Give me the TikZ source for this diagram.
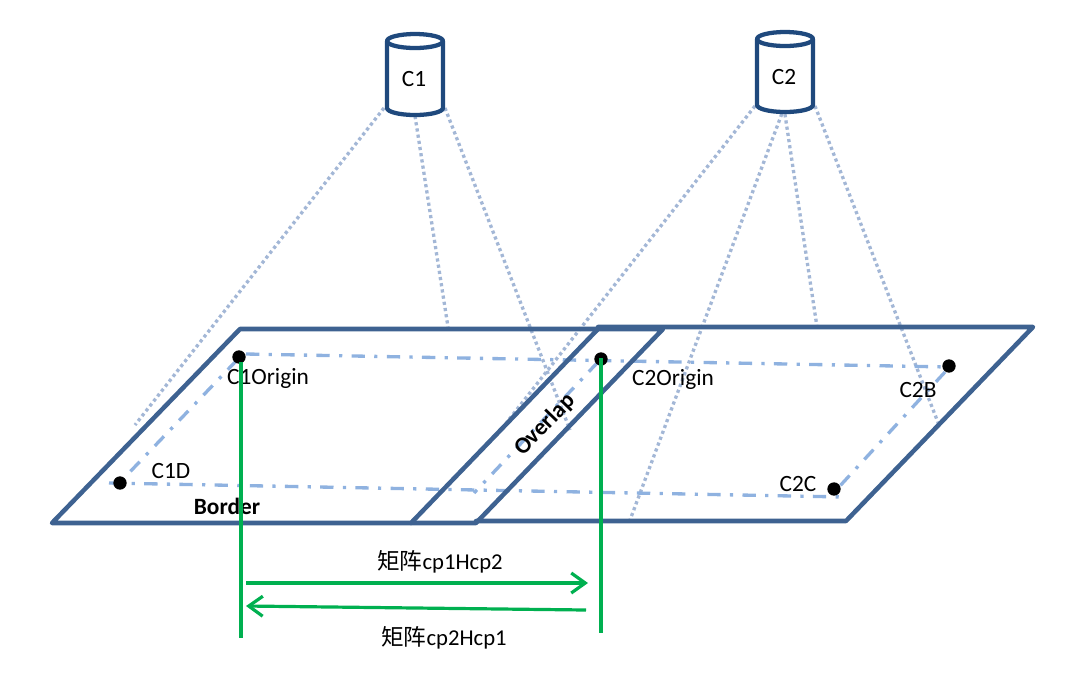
\documentclass[tikz,border=0pt]{standalone}
\usepackage{fontspec}
\setmainfont{Carlito}
\newfontfamily\cjk{Noto Sans CJK SC}
\usetikzlibrary{arrows.meta}
\definecolor{planeblue}{HTML}{3E6291}
\definecolor{cylblue}{HTML}{1F497D}
\definecolor{dotblue}{HTML}{A3B7D6}
\definecolor{dashblue}{HTML}{8FB2E0}
\definecolor{arrowgreen}{HTML}{00B050}
\tikzset{
  x=0.75pt,y=-0.75pt,
  plane/.style={draw=planeblue,line width=3.4pt,line join=round,line cap=round},
  cylline/.style={draw=cylblue,line width=3.2pt,line join=round},
  sight/.style={draw=dotblue,line width=2.5pt,dash pattern=on 2.4pt off 2.3pt},
  grid line/.style={draw=dashblue,line width=2.5pt,dash pattern=on 10pt off 7pt on 2.4pt off 7pt},
  mark dot/.style={circle,fill=black,inner sep=0pt,minimum size=10pt},
  lab/.style={font=\fontsize{17.5}{20}\selectfont,inner sep=0pt,text=black},
  mlab/.style={font=\fontsize{17}{20}\selectfont,inner sep=0pt,text=black},
  blab/.style={font=\fontsize{17.5}{20}\selectfont\bfseries,inner sep=0pt,text=black},
  green line/.style={draw=arrowgreen,line width=2.4pt},
  green arrow/.style={green line,-{Straight Barb[length=10.5pt,width=15pt,line width=2.4pt]}},
}
\begin{document}
\begin{tikzpicture}
\useasboundingbox (0,0) rectangle (1066,676);
% plane corners
\coordinate (A1) at (52,523);
\coordinate (A2) at (240,329);
\coordinate (A3) at (663,329);
\coordinate (A4) at (476,523);
\coordinate (B1) at (476,521);
\coordinate (B2) at (598,327);
\coordinate (B3) at (1033,327);
\coordinate (B4) at (846,521);
\coordinate (O1) at (411,523);
\coordinate (O2) at (598,329);
% sight ends
\coordinate (s1) at (135,425);
\coordinate (s2) at (448,327);
\coordinate (s3) at (570,430);
\coordinate (s4) at (507,422);
\coordinate (s5) at (630,520);
\coordinate (s6) at (817,327);
\coordinate (s7) at (939,425);
\coordinate (c1a) at (384,108);
\coordinate (c1b) at (415,116);
\coordinate (c1c) at (445,108);
\coordinate (c2a) at (755,106);
\coordinate (c2b) at (784,108);
\coordinate (c2c) at (815,106);
% grid line ends
\coordinate (g1) at (246,354);
\coordinate (g2) at (949,367);
\coordinate (g3) at (109,483);
\coordinate (g4) at (845,497);
\coordinate (g5) at (237,360);
\coordinate (g6) at (126,476);
\coordinate (g7) at (598,362);
\coordinate (g8) at (474,493);
\coordinate (g9) at (945,372);
\coordinate (g10) at (838,488);
% sight lines
\draw[sight] (c1a) -- (s1);
\draw[sight] (c1b) -- (s2);
\draw[sight] (c1c) -- (s3);
\draw[sight] (c2a) -- (s4);
\draw[sight] (c2b) -- (s5);
\draw[sight] (c2b) -- (s6);
\draw[sight] (c2c) -- (s7);
% grid
\draw[grid line] (g1) -- (g2);
\draw[grid line] (g3) -- (g4);
\draw[grid line] (g5) -- (g6);
\draw[grid line] (g7) -- (g8);
\draw[grid line] (g9) -- (g10);
% planes
\draw[plane] (A1) -- (A2) -- (A3) -- (A4) -- cycle;
\draw[plane] (B2) -- (B3) -- (B4) -- (B1);
\draw[plane] (O1) -- (O2);
% cylinders
\draw[cylline,fill=white] (387,41) -- (387,108) arc[start angle=180,end angle=0,x radius=28,y radius=7] -- (443,41);
\draw[cylline,fill=white] (415,41) ellipse[x radius=28,y radius=7];
\draw[cylline,fill=white] (757,39) -- (757,105) arc[start angle=180,end angle=0,x radius=28,y radius=7] -- (813,39);
\draw[cylline,fill=white] (785,39) ellipse[x radius=28,y radius=7];
\node[lab] (C1) at (414,79) {C1};
\node[lab] (C2) at (784,77) {C2};
% labels
\node[lab] (c1o) at (268,378) {C1Origin};
\node[lab] (c2o) at (673,379) {C2Origin};
\node[lab] (c1d) at (171,471) {C1D};
\node[lab] (c2bl) at (918,390) {C2B};
\node[lab] (c2cl) at (798,484) {C2C};
\node[blab] (border) at (227,506) {Border};
\node[blab,rotate=46] (overlap) at (545,425) {Overlap};
\node[mlab] (m1) at (440,562) {{\cjk 矩阵}cp1Hcp2};
\node[mlab] (m2) at (444,638) {{\cjk 矩阵}cp2Hcp1};
% dots
\node[mark dot] (d1) at (239,357) {};
\node[mark dot] (d2) at (601,359) {};
\node[mark dot] (d3) at (120,483) {};
\node[mark dot] (d4) at (949,366) {};
\node[mark dot] (d5) at (834,489) {};
% green
\coordinate (v1t) at (241,362);
\coordinate (v2t) at (601,358);
\coordinate (v1b) at (241,638);
\coordinate (v2b) at (601,633);
\coordinate (a1s) at (246,583);
\coordinate (a1e) at (588,583);
\coordinate (a2s) at (586,610);
\coordinate (a2e) at (246,606);
\draw[green line] (v1t) -- (v1b);
\draw[green line] (v2t) -- (v2b);
\draw[green arrow] (a1s) -- (a1e);
\draw[green arrow] (a2s) -- (a2e);
\end{tikzpicture}
\end{document}
